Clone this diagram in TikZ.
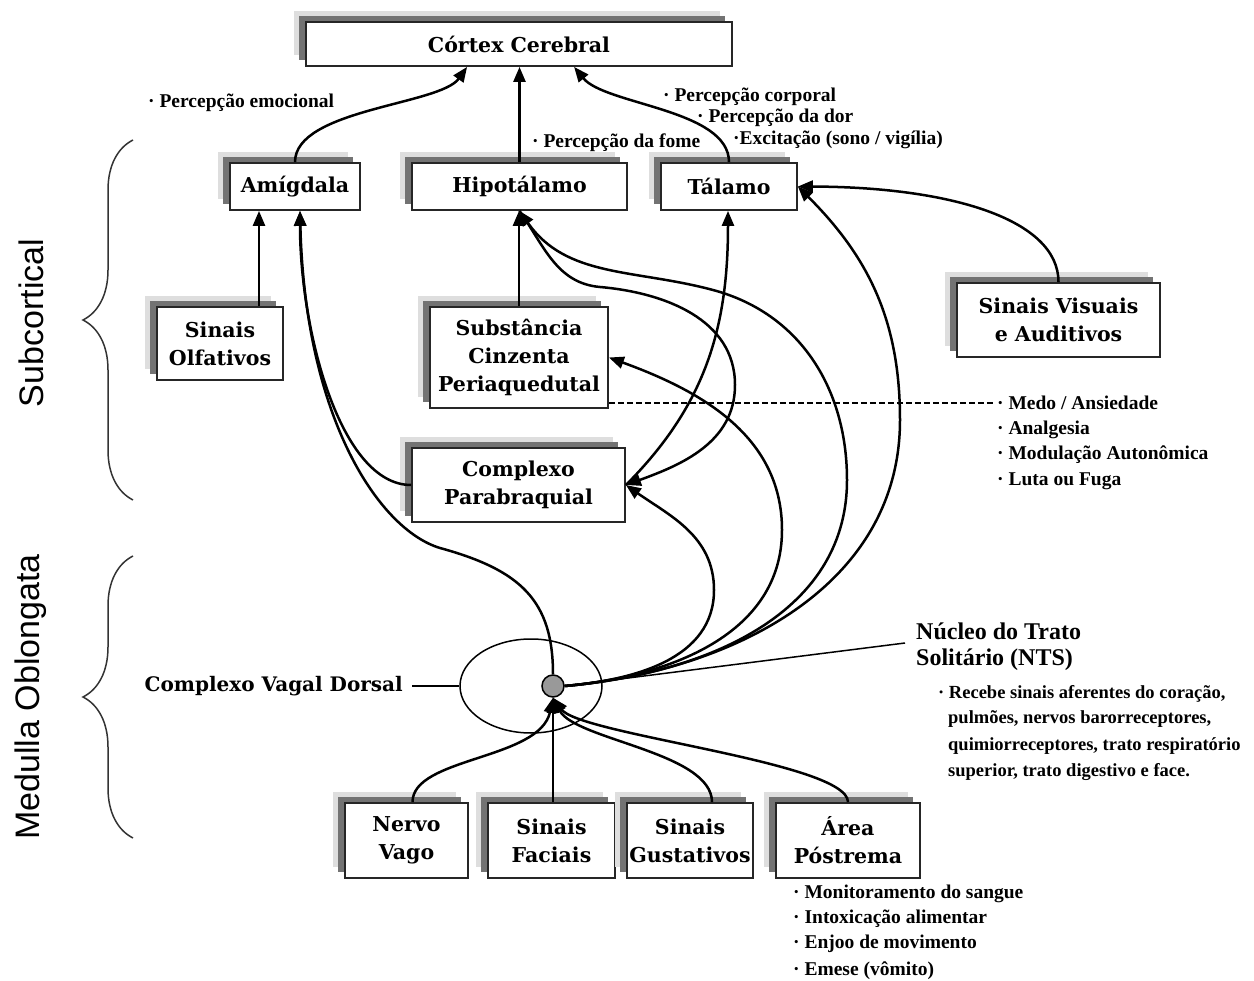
\documentclass[tikz,border=0pt]{standalone}
\usepackage{fontspec}
\setmainfont{Liberation Serif}
\newfontfamily\boxfont{DejaVu Serif}
\newfontfamily\sidefont{Liberation Sans}
\usetikzlibrary{arrows.meta,shapes.geometric,shadows,decorations.pathreplacing,calc}
\tikzset{
  box/.style={draw=black!85, line width=1.8pt, fill=white, align=center, inner sep=0pt,
    font=\boxfont\bfseries\fontsize{20.5}{28}\selectfont,
    general shadow={shadow xshift=-12pt, shadow yshift=11pt, fill=black!13},
    general shadow={shadow xshift=-7pt, shadow yshift=6pt, fill=black!55}},
  conn/.style={line width=2.5pt, -{Triangle[length=15pt,width=12pt]}},
  thin/.style={line width=1.5pt},
  lab/.style={font=\bfseries\fontsize{19.5}{24}\selectfont, inner sep=0pt, anchor=base west},
  labs/.style={font=\bfseries\fontsize{18.5}{24}\selectfont, inner sep=0pt, anchor=base west},
  labh/.style={font=\bfseries\fontsize{24}{28}\selectfont, inner sep=0pt, anchor=base west},
  side/.style={font=\sidefont\fontsize{34}{40}\selectfont, rotate=90, inner sep=0pt},
  bracest/.style={decorate, decoration={brace, amplitude=50pt}, line width=1.5pt, black!80}
}
\begin{document}
\begin{tikzpicture}[x=1pt,y=1pt]
\useasboundingbox (0,0) rectangle (1254,-981);

% boxes
\node[box, minimum width=426pt, minimum height=44pt] (cortex) at (519,-44) {Córtex Cerebral};
\node[box, minimum width=130pt, minimum height=47pt] (amig) at (295,-186.5) {Amígdala};
\node[box, minimum width=215pt, minimum height=47pt] (hipo) at (519.5,-186.5) {Hipotálamo};
\node[box, minimum width=136pt, minimum height=47pt] (talamo) at (729,-186.5) {Tálamo};
\node[box, minimum width=126pt, minimum height=73pt] (olf) at (220,-343.5) {Sinais\\Olfativos};
\node[box, minimum width=178pt, minimum height=101pt] (scp) at (519,-357.5) {Substância\\Cinzenta\\Periaquedutal};
\node[box, minimum width=213pt, minimum height=74pt] (pb) at (518.5,-485) {Complexo\\Parabraquial};
\node[box, minimum width=203pt, minimum height=74pt] (vis) at (1058.5,-320) {Sinais Visuais\\e Auditivos};
\node[box, minimum width=123pt, minimum height=75pt] (nervo) at (406.5,-840.5) {Nervo\\Vago};
\node[box, minimum width=127pt, minimum height=75pt] (faciais) at (551.5,-840.5) {Sinais\\Faciais};
\node[box, minimum width=126pt, minimum height=75pt] (gust) at (690,-840.5) {Sinais\\Gustativos};
\node[box, minimum width=144pt, minimum height=75pt] (area) at (848,-840.5) {Área\\Póstrema};

% vagal complex
\node[draw, ellipse, thin, minimum width=142pt, minimum height=94pt, inner sep=0pt] (cvd) at (531,-686) {};
\node[circle, draw, thin, fill=black!40, minimum size=22pt, inner sep=0pt] (nts) at (553,-686) {};
\node[font=\boxfont\bfseries\fontsize{20}{24}\selectfont, anchor=east, inner sep=0pt] (cvdl) at (403,-686) {Complexo Vagal Dorsal};
\draw[thin] ($(cvdl.east)+(9,0)$) -- (cvd.west);

% side labels and braces
\node[side] (subc) at (31,-323) {Subcortical};
\node[side] (medl) at (31,-697) {Medulla Oblongata};
\draw[bracest] (133,-500) -- (133,-140);
\draw[bracest] (133,-838) -- (133,-556);

% connectors to cortex
\coordinate (c1) at ($(cortex.south west)+(162,0)$);
\coordinate (c3) at ($(cortex.south west)+(269,0)$);
\draw[conn] (amig.north) .. controls +(0,53) and (440,-105) .. (c1);
\draw[conn] (hipo.north) -- (hipo.north |- cortex.south);
\draw[conn] (talamo.north) .. controls +(0,53) and (605,-105) .. (c3);

% amygdala inputs
\coordinate (a1) at ($(amig.south)+(-36,0)$);
\coordinate (a2) at ($(amig.south)+(5,0)$);
\draw[conn] (olf.north -| a1) -- (a1);
\draw[conn] (pb.west) .. controls (340,-485) and (300,-330) .. (a2);
\draw[conn] (nts.north) .. controls (553,-600) and (520,-570) .. (440,-548) .. controls (380,-530) and (305,-420) .. (a2);

% hypothalamus
\draw[conn] (scp.north) -- (scp.north |- hipo.south);
\draw[conn] (nts.east) to[out=5,in=-90] (847,-480) to[out=90,in=-15] (713,-290) to[out=165,in=-55] (hipo.south);
\draw[conn] (hipo.south) to[out=-55,in=175] (600,-287) to[out=-5,in=90] (735,-385) to[out=-90,in=20] (pb.east);

% SCP, PB, thalamus
\draw[conn] (nts.east) to[out=5,in=-90] (782,-530) to[out=90,in=-20] (scp.east);
\draw[conn] (nts.east) to[out=5,in=-90] (714,-590) to[out=90,in=-35] (pb.east);
\coordinate (t1) at ($(talamo.south)+(-1,0)$);
\draw[conn] (pb.east) to[out=45,in=-90] (t1);
\draw[conn] (nts.east) to[out=5,in=-90] (900,-420) to[out=90,in=-45] (talamo.east);
\draw[conn] (vis.north) .. controls +(0,63) and (950,-187) .. (talamo.east);

% inputs to NTS
\draw[conn] ($(nervo.north)+(6,0)$) .. controls +(0,45) and (540,-760) .. (nts.south);
\draw[conn] (nts.south |- faciais.north) -- (nts.south);
\draw[conn] ($(gust.north)+(22,0)$) .. controls +(0,50) and (575,-740) .. (nts.south);
\draw[conn] (area.north) .. controls +(0,40) and (580,-735) .. (nts.south);

% NTS label line, dashed line
\coordinate (ntsl) at (905,-643);
\draw[thin] (nts.east) -- (ntsl);
\coordinate (dend) at (995,-403);
\draw[line width=2pt, dash pattern=on 6pt off 3pt] (scp.east |- dend) -- (dend);

% labels
\node[lab] (l1) at (148,-108) {· Percepção emocional};
\node[lab] (l2) at (532,-148) {· Percepção da fome};
\node[lab] (l3) at (663,-102) {· Percepção corporal};
\node[lab] (l4) at (697,-123) {· Percepção da dor};
\node[lab] (l5) at (733,-145) {·Excitação (sono / vigília)};

\node[lab] (m1) at (997,-410) {· Medo / Ansiedade};
\node[lab] (m2) at (997,-435) {· Analgesia};
\node[lab] (m3) at (997,-460) {· Modulação Autonômica};
\node[lab] (m4) at (997,-486) {· Luta ou Fuga};

\node[labh] (n1) at (916,-639) {Núcleo do Trato};
\node[labh] (n2) at (916,-665) {Solitário (NTS)};
\node[labs] (r1) at (938,-698) {· Recebe sinais aferentes do coração,};
\node[labs] (r2) at (948,-723) {pulmões, nervos barorreceptores,};
\node[labs] (r3) at (948,-750) {quimiorreceptores, trato respiratório};
\node[labs] (r4) at (948,-776) {superior, trato digestivo e face.};

\node[lab] (p1) at (793,-898) {· Monitoramento do sangue};
\node[lab] (p2) at (793,-923) {· Intoxicação alimentar};
\node[lab] (p3) at (793,-948) {· Enjoo de movimento};
\node[lab] (p4) at (793,-975) {· Emese (vômito)};
\end{tikzpicture}
\end{document}
